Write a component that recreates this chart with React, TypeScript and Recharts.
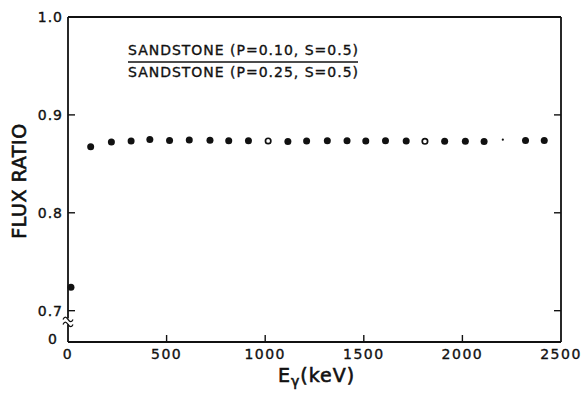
import React from 'react';
import { ScatterChart, Scatter, XAxis, YAxis } from 'recharts';

// Gamma-ray energy (keV) of each computed point
const energyKeV = [
  15, 115, 220, 320, 415, 515, 615, 720, 815, 915, 1015, 1115, 1210,
  1315, 1415, 1510, 1610, 1715, 1810, 1910, 2015, 2110, 2205, 2320, 2415,
];

// Flux ratio: sandstone (P=0.10) over sandstone (P=0.25)
const fluxRatio = [
  0.724, 0.8675, 0.8724, 0.8733, 0.8749, 0.8738, 0.8743, 0.8742, 0.8737,
  0.8735, 0.8734, 0.8729, 0.8733, 0.8737, 0.8735, 0.8734, 0.8735, 0.8734,
  0.873, 0.8731, 0.873, 0.8728, 0.8747, 0.8739, 0.8738,
];

// Points printed as open rings / as a faint speck
const openMarkerEnergies = [1015, 1810];
const faintMarkerEnergies = [2205];

const xTicks = [0, 500, 1000, 1500, 2000, 2500];
const yMajorTicks = [0.7, 0.8, 0.9, 1.0];

// Broken y axis: the bottom of the frame stands for zero
const Y_FLOOR = 0.668;
const BREAK_AT = 0.689;

const W = 584;
const H = 396;
const TICK_LEN = 7;
const INK = '#111';
const FONT = '"DejaVu Sans", sans-serif';

const data = energyKeV.map((e, i) => ({ energy: e, ratio: fluxRatio[i] }));

const near = (a: number, b: number) => Math.abs(a - b) < 1e-6;

// Slight outline so the lettering reads as heavy as pen-drawn labels
const inkText = { fill: INK, stroke: INK, strokeWidth: 0.35 };

const LeftTick = (props: any) => {
  const { x, y, payload } = props;
  const v = payload.value as number;
  if (near(v, BREAK_AT)) {
    return (
      <g>
        <rect x={x - 2} y={y - 3} width={4} height={6} fill="#fff" />
        <path
          d={`M${x - 5},${y - 2} c1.5,-3 3,-3 5,0 s3.5,3 5,0`}
          fill="none"
          stroke={INK}
          strokeWidth={1.3}
        />
        <path
          d={`M${x - 5},${y + 3} c1.5,-3 3,-3 5,0 s3.5,3 5,0`}
          fill="none"
          stroke={INK}
          strokeWidth={1.3}
        />
      </g>
    );
  }
  const isFloor = near(v, Y_FLOOR);
  return (
    <g>
      {!isFloor && v < 0.999 && (
        <line x1={x} x2={x + TICK_LEN} y1={y} y2={y} stroke={INK} strokeWidth={1.4} />
      )}
      <text
        x={isFloor ? x - 10 : x - 5}
        y={isFloor ? y - 3 : y}
        dy="0.36em"
        textAnchor="end"
        fontFamily={FONT}
        fontSize={14}
        letterSpacing={1}
        {...inkText}
      >
        {isFloor ? '0' : v.toFixed(1)}
      </text>
    </g>
  );
};

const RightTick = (props: any) => {
  const { x, y, payload } = props;
  const v = payload.value as number;
  if (v > 0.999) return <g />;
  return <line x1={x} x2={x - TICK_LEN} y1={y} y2={y} stroke={INK} strokeWidth={1.4} />;
};

const BottomTick = (props: any) => {
  const { x, y, payload } = props;
  const v = payload.value as number;
  return (
    <g>
      {v > 0 && v < 2500 && (
        <line x1={x} x2={x} y1={y} y2={y - TICK_LEN} stroke={INK} strokeWidth={1.4} />
      )}
      <text
        x={x}
        y={y + 17}
        textAnchor="middle"
        fontFamily={FONT}
        fontSize={14}
        letterSpacing={1.5}
        {...inkText}
      >
        {String(v)}
      </text>
    </g>
  );
};

const TopTick = (props: any) => {
  const { x, y, payload } = props;
  const v = payload.value as number;
  if (v <= 0 || v >= 2500) return <g />;
  return <line x1={x} x2={x} y1={y} y2={y + TICK_LEN} stroke={INK} strokeWidth={1.4} />;
};

const Marker = (props: any) => {
  const { cx, cy, payload } = props;
  const e = payload.energy as number;
  if (openMarkerEnergies.includes(e)) {
    return <circle cx={cx} cy={cy} r={2.7} fill="#fff" stroke={INK} strokeWidth={1.7} />;
  }
  if (faintMarkerEnergies.includes(e)) {
    return <circle cx={cx} cy={cy} r={1.1} fill={INK} />;
  }
  return <circle cx={cx} cy={cy} r={3.5} fill={INK} />;
};

export default function App() {
  return (
    <div style={{ position: 'absolute', left: 0, top: 0, width: W, height: H, background: '#fff' }}>
      <ScatterChart width={W} height={H} margin={{ top: 11, right: 13, bottom: 24, left: 8 }}>
        <XAxis
          xAxisId="bottom"
          dataKey="energy"
          type="number"
          domain={[0, 2500]}
          ticks={xTicks}
          orientation="bottom"
          height={30}
          tickSize={0}
          tickMargin={0}
          tickLine={false}
          axisLine={{ stroke: INK, strokeWidth: 1.8 }}
          tick={<BottomTick />}
          interval={0}
        />
        <XAxis
          xAxisId="top"
          type="number"
          domain={[0, 2500]}
          ticks={xTicks}
          orientation="top"
          height={6}
          tickSize={0}
          tickMargin={0}
          tickLine={false}
          axisLine={{ stroke: INK, strokeWidth: 1.8 }}
          tick={<TopTick />}
          interval={0}
        />
        <YAxis
          yAxisId="left"
          dataKey="ratio"
          type="number"
          domain={[Y_FLOOR, 1.0]}
          ticks={[Y_FLOOR, BREAK_AT, ...yMajorTicks]}
          allowDataOverflow
          width={60}
          tickSize={0}
          tickMargin={0}
          tickLine={false}
          axisLine={{ stroke: INK, strokeWidth: 1.8 }}
          tick={<LeftTick />}
          interval={0}
        />
        <YAxis
          yAxisId="right"
          orientation="right"
          type="number"
          domain={[Y_FLOOR, 1.0]}
          ticks={yMajorTicks}
          allowDataOverflow
          width={10}
          tickSize={0}
          tickMargin={0}
          tickLine={false}
          axisLine={{ stroke: INK, strokeWidth: 1.8 }}
          tick={<RightTick />}
          interval={0}
        />
        <Scatter
          data={data}
          xAxisId="bottom"
          yAxisId="left"
          shape={<Marker />}
          isAnimationActive={false}
        />
      </ScatterChart>

      <svg
        width={W}
        height={H}
        style={{ position: 'absolute', left: 0, top: 0, pointerEvents: 'none' }}
      >
        <g fontFamily={FONT} fontSize={14} {...inkText}>
          <text x={128} y={55} textLength={230} lengthAdjust="spacing">
            SANDSTONE (P=0.10, S=0.5)
          </text>
          <text x={128} y={77} textLength={230} lengthAdjust="spacing">
            SANDSTONE (P=0.25, S=0.5)
          </text>
        </g>
        <line x1={128} x2={358} y1={62} y2={62} stroke={INK} strokeWidth={1.5} />
        <text
          transform="translate(19,181) rotate(-90)"
          textAnchor="middle"
          dy="0.36em"
          fontFamily={FONT}
          fontSize={19}
          letterSpacing={0.6}
          fill={INK}
          stroke={INK}
          strokeWidth={0.6}
        >
          FLUX RATIO
        </text>
        <text
          x={278}
          y={382}
          fontFamily={FONT}
          fontSize={19}
          letterSpacing={1}
          fill={INK}
          stroke={INK}
          strokeWidth={0.6}
        >
          E
          <tspan fontSize={14} dy={4}>γ</tspan>
          <tspan dy={-4}>(keV)</tspan>
        </text>
      </svg>
    </div>
  );
}
